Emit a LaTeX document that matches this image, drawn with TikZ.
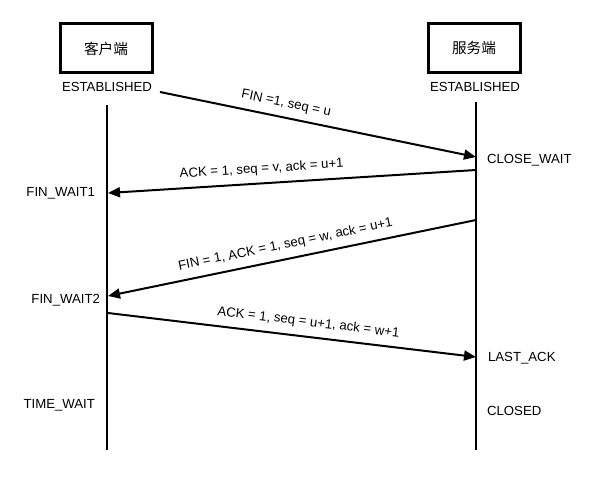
\documentclass[tikz,border=0pt]{standalone}
\usepackage{fontspec}
\setmainfont{Liberation Sans}
\newfontfamily\cjkfont{Noto Sans CJK SC}
\usetikzlibrary{arrows.meta}

\begin{document}
\begin{tikzpicture}[x=0.5pt,y=-0.5pt,
    font=\fontsize{6.6}{7.8}\selectfont,
    party/.style={draw,line width=1.5pt,minimum width=46pt,minimum height=24.5pt,font=\fontsize{7.3}{8}\selectfont\cjkfont},
    life/.style={line width=1.4pt},
    msg/.style={line width=1pt,-{Triangle[length=6pt,width=5pt]}},
    lbl/.style={sloped,above=3.5pt,inner sep=0pt}]
    \useasboundingbox (0,0) rectangle (598,481);
    \node[party] (client) at (106,48.5) {客户端};
    \node[party] (server) at (474,48) {服务端};
    \node (cEst) at (107,87) {ESTABLISHED};
    \node (sEst) at (475,87) {ESTABLISHED};
    % lifelines
    \coordinate (cTop) at (107,105); \coordinate (cBot) at (107,450);
    \coordinate (sTop) at (476,102); \coordinate (sBot) at (476,450);
    \draw[life] (cTop) -- (cBot); \draw[life] (sTop) -- (sBot);
    % message end points on the lifelines
    \coordinate (m1a) at (160,92);  \coordinate (m1b) at (476,157);
    \coordinate (m2a) at (476,170); \coordinate (m2b) at (108,193);
    \coordinate (m3a) at (476,220); \coordinate (m3b) at (108,296);
    \coordinate (m4a) at (108,313); \coordinate (m4b) at (476,357);
    \draw[msg] (m1a) -- node[lbl,pos=0.39] {FIN =1, seq = u} (m1b);
    \draw[msg] (m2a) -- node[lbl,pos=0.58] {ACK = 1, seq = v, ack = u+1} (m2b);
    \draw[msg] (m3a) -- node[lbl,pos=0.51] {FIN = 1, ACK = 1, seq = w, ack = u+1} (m3b);
    \draw[msg] (m4a) -- node[lbl,pos=0.54] {ACK = 1, seq = u+1, ack = w+1} (m4b);
    % states
    \node[anchor=west] (closeWait) at (480,160) {CLOSE\_WAIT};
    \node[anchor=east] (finWait1) at (102,193) {FIN\_WAIT1};
    \node[anchor=east] (finWait2) at (107,300) {FIN\_WAIT2};
    \node[anchor=west] (lastAck) at (481,358) {LAST\_ACK};
    \node[anchor=east] (timeWait) at (102,405) {TIME\_WAIT};
    \node[anchor=west] (closed) at (480,411) {CLOSED};
\end{tikzpicture}
\end{document}
